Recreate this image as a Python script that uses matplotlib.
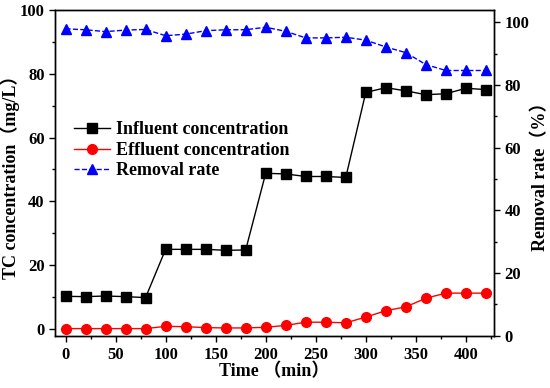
import matplotlib
matplotlib.use("Agg")
import matplotlib.pyplot as plt
from matplotlib.ticker import MultipleLocator

plt.rcParams['font.family'] = ['Liberation Serif', 'Noto Sans CJK SC']
plt.rcParams['font.weight'] = 'bold'

time_min = [0, 20, 40, 60, 80, 100, 120, 140, 160, 180, 200,
            220, 240, 260, 280, 300, 320, 340, 360, 380, 400, 420]
influent = [10.3, 10.2, 10.4, 10.2, 9.9, 25.0, 25.0, 25.0, 24.7, 24.8, 48.8,
            48.6, 47.8, 47.8, 47.5, 74.1, 75.6, 74.6, 73.4, 73.7, 75.4, 75.0]
effluent = [0.2, 0.2, 0.2, 0.2, 0.2, 0.9, 0.8, 0.5, 0.4, 0.4, 0.6,
            1.2, 2.2, 2.2, 2.0, 3.8, 5.8, 7.0, 9.7, 11.3, 11.3, 11.3]
removal = [97.9, 97.6, 97.0, 97.5, 97.7, 95.7, 96.2, 97.3, 97.6, 97.6, 98.4,
           97.1, 95.0, 95.0, 95.2, 94.3, 92.1, 90.3, 86.5, 84.6, 84.6, 84.6]

fig = plt.figure(figsize=(5.5, 3.88), dpi=100)
ax = fig.add_axes([0.1, 0.135, 0.798, 0.84])
ax2 = ax.twinx()

l1, = ax.plot(time_min, influent, '-s', color='black', lw=1, ms=6.5,
              label='Influent concentration')
l2, = ax.plot(time_min, effluent, '-o', color='red', lw=1, ms=7,
              label='Effluent concentration')
l3, = ax2.plot(time_min, removal, '--^', color='blue', lw=1, ms=7.5,
               label='Removal rate')

ax.set_xlim(-10.5, 428)
ax.set_ylim(-2, 100)
ax2.set_ylim(0, 104)

ax.xaxis.set_major_locator(MultipleLocator(50))
ax.xaxis.set_minor_locator(MultipleLocator(25))
ax.yaxis.set_major_locator(MultipleLocator(20))
ax.yaxis.set_minor_locator(MultipleLocator(10))
ax2.yaxis.set_major_locator(MultipleLocator(20))
ax2.yaxis.set_minor_locator(MultipleLocator(10))

for a in (ax, ax2):
    a.tick_params(which='major', direction='out', length=4, width=1, labelsize=12)
    a.tick_params(which='minor', direction='out', length=2.5, width=1)
    for s in a.spines.values():
        s.set_linewidth(1)
ax.tick_params(axis='x', pad=4)

ax.set_xlabel('Time （min）', fontsize=13, fontweight='bold', labelpad=0)
ax.set_ylabel('TC concentration（mg/L）', fontsize=13, fontweight='bold', labelpad=0)
ax2.set_ylabel('Removal rate（%）', fontsize=13, fontweight='bold', labelpad=2)

ax.legend(handles=[l1, l2, l3], loc='upper left', bbox_to_anchor=(0.027, 0.68),
          frameon=False, fontsize=13, handlelength=2.0, handletextpad=0.3,
          labelspacing=0.2, borderaxespad=0)

fig.savefig('out.png', dpi=100)
